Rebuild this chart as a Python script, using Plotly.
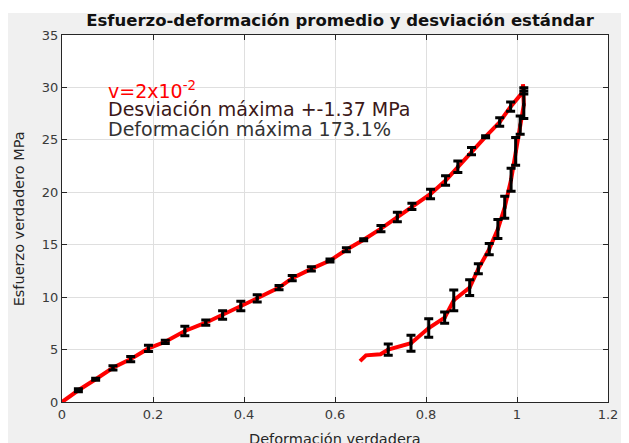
import plotly.graph_objects as go

# carga (loading) - puntos con barra de error
load_strain = [0.036, 0.074, 0.112, 0.151, 0.190, 0.227, 0.270, 0.316, 0.353, 0.393,
               0.429, 0.477, 0.506, 0.548, 0.589, 0.625, 0.663, 0.701, 0.737, 0.769,
               0.810, 0.843, 0.870, 0.900, 0.931, 0.962, 0.986, 1.015]
load_stress = [1.12, 2.17, 3.26, 4.09, 5.11, 5.74, 6.77, 7.56, 8.30, 9.16,
               9.89, 10.91, 11.81, 12.70, 13.49, 14.52, 15.47, 16.53, 17.64, 18.66,
               19.84, 21.12, 22.43, 23.92, 25.30, 26.70, 28.17, 29.67]
load_err = [0.15, 0.10, 0.20, 0.25, 0.30, 0.15, 0.45, 0.25, 0.40, 0.45,
            0.35, 0.20, 0.25, 0.20, 0.15, 0.20, 0.10, 0.30, 0.45, 0.30,
            0.45, 0.45, 0.55, 0.35, 0.10, 0.40, 0.45, 0.30]

# descarga (unloading)
unload_strain = [1.015, 1.007, 0.997, 0.987, 0.973, 0.958, 0.939, 0.915, 0.896, 0.861,
                 0.841, 0.806, 0.767, 0.717]
unload_stress = [28.35, 26.41, 23.90, 21.20, 18.57, 16.50, 14.58, 12.70, 10.91, 9.70,
                 8.05, 7.05, 5.60, 5.00]
unload_err = [1.32, 0.87, 1.32, 1.10, 1.05, 0.90, 0.53, 0.48, 0.75, 0.99,
              0.53, 0.88, 0.77, 0.53]

# extremos de la curva promedio
start_strain, start_stress = [0.0], [0.0]
peak_strain, peak_stress = [1.013], [30.3]
tail_strain = [0.700, 0.668, 0.655]
tail_stress = [4.55, 4.45, 3.90]

mean_strain = start_strain + load_strain + peak_strain + unload_strain + tail_strain
mean_stress = start_stress + load_stress + peak_stress + unload_stress + tail_stress

FONT = "DejaVu Sans"
AXIS_COLOR = "#262626"

fig = go.Figure()

# curva promedio
fig.add_trace(go.Scatter(
    x=mean_strain, y=mean_stress, mode="lines",
    line=dict(color="#ff0000", width=4),
    showlegend=False, hoverinfo="skip",
))

# barras de desviación estándar
for xs, ys, es in [(load_strain, load_stress, load_err),
                   (unload_strain, unload_stress, unload_err)]:
    fig.add_trace(go.Scatter(
        x=xs, y=ys, mode="markers",
        marker=dict(size=3, color="black", symbol="square"),
        error_y=dict(type="data", array=es, color="black", thickness=3, width=4.5),
        showlegend=False,
    ))

# textos dentro del gráfico
fig.add_annotation(x=0.096, y=29.75, xref="x", yref="y", xanchor="left", yanchor="middle",
                   text="v=2x10<sup>-2</sup>", showarrow=False,
                   font=dict(family=FONT, size=19, color="#ff0000"))
fig.add_annotation(x=0.096, y=27.9, xref="x", yref="y", xanchor="left", yanchor="middle",
                   text="Desviación máxima +-1.37 MPa", showarrow=False,
                   font=dict(family=FONT, size=19, color="#3b1818"))
fig.add_annotation(x=0.096, y=26.05, xref="x", yref="y", xanchor="left", yanchor="middle",
                   text="Deformación máxima 173.1%", showarrow=False,
                   font=dict(family=FONT, size=19, color="#333333"))

# títulos de los ejes
fig.add_annotation(x=-0.079, y=0.5, xref="paper", yref="paper", xanchor="center", yanchor="middle",
                   text="Esfuerzo verdadero MPa", textangle=-90, showarrow=False,
                   font=dict(family=FONT, size=14.5, color=AXIS_COLOR))
fig.add_annotation(x=0.5, y=-0.102, xref="paper", yref="paper", xanchor="center", yanchor="middle",
                   text="Deformación verdadera", showarrow=False,
                   font=dict(family=FONT, size=14.5, color=AXIS_COLOR))

# franja blanca superior del recorte
fig.add_shape(type="rect", xref="paper", yref="paper", x0=-0.3, x1=1.3, y0=1.06, y1=1.3,
              fillcolor="white", line=dict(width=0), layer="below")

axis_common = dict(
    showline=True, linecolor=AXIS_COLOR, linewidth=1, mirror="ticks",
    ticks="inside", ticklen=5, tickcolor=AXIS_COLOR,
    showgrid=True, gridcolor="#dfdfdf", gridwidth=1, zeroline=False,
    tickfont=dict(family=FONT, size=13, color="#3a3a3a"),
)

fig.update_xaxes(range=[0, 1.2], dtick=0.2, tick0=0, **axis_common)
fig.update_yaxes(range=[0, 35], dtick=5, tick0=0, **axis_common)

fig.update_layout(
    width=621, height=435,
    margin=dict(l=54, r=11, t=27, b=41),
    paper_bgcolor="#f0f0f0",
    plot_bgcolor="white",
    title=dict(text="<b>Esfuerzo-deformación promedio y desviación estándar</b>",
               x=0.5346, xref="container", xanchor="center",
               y=0.972, yref="container", yanchor="middle",
               font=dict(family=FONT, size=16.5, color="#111111")),
    showlegend=False,
)

fig.write_html("out.html")
